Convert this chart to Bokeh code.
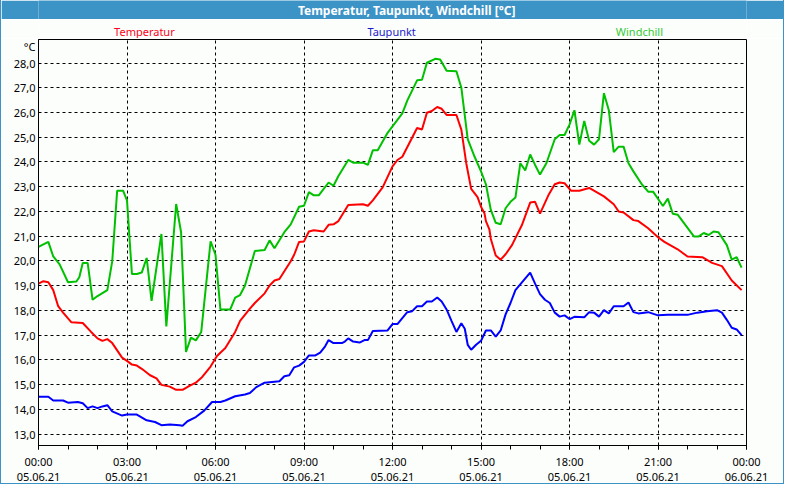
from bokeh.plotting import figure
from bokeh.models import Range1d, FixedTicker, LinearAxis
from bokeh.layouts import column
from bokeh.embed import file_html
from bokeh.resources import INLINE
from bokeh.core.properties import value

# ---------------- data ----------------
TITLE = "Temperatur, Taupunkt, Windchill [°C]"
SERIES_NAMES = ["Temperatur", "Taupunkt", "Windchill"]
UNIT_LABEL = "°C"

x_tick_hours = [0, 3, 6, 9, 12, 15, 18, 21, 24]
x_time_labels = ["00:00", "03:00", "06:00", "09:00", "12:00", "15:00", "18:00", "21:00", "00:00"]
x_date_labels = ["05.06.21"] * 8 + ["06.06.21"]
y_ticks = list(range(13, 29))
y_tick_labels = [f"{t},0" for t in y_ticks]
unit_label_pos = 28.75

# minutes since 05.06.21 00:00
temp_minutes = [0, 10, 20, 30, 40, 50, 67, 90, 107, 120, 130, 140, 150, 170, 180, 190,
                200, 210, 227, 240, 250, 267, 280, 293, 307, 320, 333, 350, 363, 380,
                400, 410, 430, 440, 460, 470, 480, 490, 500, 513, 520, 530, 540, 550,
                560, 580, 590, 600, 610, 630, 660, 670, 680, 700, 720, 730, 740, 770,
                780, 790, 800, 811, 820, 830, 850, 860, 870, 880, 893, 900, 907, 910,
                917, 920, 930, 940, 950, 963, 983, 1000, 1010, 1020, 1037, 1050, 1060,
                1070, 1083, 1100, 1120, 1150, 1170, 1180, 1190, 1210, 1220, 1240, 1260,
                1273, 1300, 1320, 1350, 1370, 1390, 1410, 1430]
temp_values = [19.08, 19.18, 19.14, 18.82, 18.17, 17.91, 17.52, 17.49, 17.13, 16.87, 16.77,
               16.84, 16.68, 16.09, 15.96, 15.81, 15.77, 15.64, 15.38, 15.25, 14.99, 14.92,
               14.79, 14.79, 14.95, 15.08, 15.31, 15.73, 16.16, 16.48, 17.13, 17.58, 18.07,
               18.30, 18.69, 19.01, 19.21, 19.27, 19.58, 19.99, 20.25, 20.77, 20.79, 21.19,
               21.24, 21.19, 21.46, 21.48, 21.61, 22.26, 22.29, 22.23, 22.45, 22.97, 23.82,
               24.08, 24.21, 25.37, 25.31, 25.99, 26.06, 26.22, 26.15, 25.90, 25.90, 25.31,
               23.95, 22.91, 22.58, 22.19, 21.93, 21.61, 21.28, 20.89, 20.22, 20.05, 20.27,
               20.64, 21.44, 22.36, 22.39, 21.91, 22.65, 23.10, 23.17, 23.14, 22.84, 22.84,
               22.95, 22.61, 22.29, 22.00, 21.96, 21.65, 21.61, 21.32, 20.96, 20.77, 20.47,
               20.18, 20.15, 19.92, 19.79, 19.21, 18.82]

dew_minutes = [0, 20, 30, 50, 60, 80, 90, 100, 110, 120, 130, 140, 150, 170, 180, 200,
               220, 237, 250, 267, 287, 293, 303, 320, 337, 353, 370, 380, 400, 420, 430,
               443, 460, 480, 490, 500, 510, 520, 530, 540, 550, 563, 573, 583, 590, 600,
               617, 623, 630, 640, 653, 663, 670, 680, 710, 720, 730, 750, 760, 770, 780,
               790, 800, 811, 820, 830, 840, 850, 860, 867, 873, 880, 890, 900, 910, 920,
               930, 940, 950, 960, 970, 1000, 1010, 1020, 1030, 1040, 1050, 1060, 1070,
               1080, 1090, 1110, 1120, 1130, 1140, 1150, 1160, 1170, 1190, 1200, 1210,
               1220, 1240, 1260, 1280, 1320, 1340, 1360, 1380, 1390, 1400, 1410, 1420, 1430]
dew_values = [14.51, 14.51, 14.36, 14.36, 14.27, 14.30, 14.25, 14.05, 14.12, 14.05, 14.12,
              14.17, 13.92, 13.75, 13.79, 13.79, 13.56, 13.49, 13.36, 13.39, 13.36, 13.34,
              13.52, 13.69, 13.95, 14.30, 14.30, 14.36, 14.53, 14.60, 14.66, 14.90, 15.08,
              15.12, 15.14, 15.34, 15.38, 15.70, 15.77, 15.92, 16.18, 16.18, 16.29, 16.55,
              16.80, 16.68, 16.68, 16.74, 16.87, 16.74, 16.70, 16.80, 16.80, 17.17, 17.19,
              17.45, 17.45, 17.93, 17.97, 18.17, 18.17, 18.36, 18.36, 18.52, 18.36, 18.04,
              17.58, 17.13, 17.48, 17.26, 16.61, 16.41, 16.61, 16.77, 17.19, 17.19, 16.94,
              17.19, 17.84, 18.30, 18.82, 19.53, 19.08, 18.66, 18.43, 18.30, 17.91, 17.75,
              17.80, 17.65, 17.74, 17.72, 17.93, 17.91, 17.75, 18.01, 17.88, 18.17, 18.17,
              18.32, 17.93, 17.88, 17.93, 17.80, 17.82, 17.82, 17.91, 17.97, 18.01, 17.91,
              17.62, 17.30, 17.23, 17.00]

wc_minutes = [0, 13, 20, 30, 43, 60, 77, 83, 90, 100, 110, 120, 140, 150, 160, 172, 180,
              190, 200, 210, 220, 230, 250, 260, 280, 290, 300, 310, 320, 331, 350, 360,
              370, 390, 400, 410, 420, 440, 460, 470, 480, 500, 513, 530, 540, 550, 560,
              570, 590, 600, 610, 630, 640, 660, 670, 680, 690, 710, 740, 750, 770, 780,
              790, 807, 817, 830, 850, 860, 873, 887, 900, 910, 920, 930, 940, 950, 960,
              970, 980, 990, 1000, 1010, 1020, 1033, 1050, 1060, 1070, 1080, 1090, 1100,
              1110, 1120, 1130, 1140, 1150, 1160, 1170, 1180, 1190, 1200, 1210, 1227, 1240,
              1250, 1270, 1280, 1290, 1300, 1333, 1343, 1353, 1363, 1373, 1383, 1400, 1410,
              1420, 1430]
wc_values = [20.57, 20.70, 20.77, 20.18, 19.86, 19.14, 19.17, 19.34, 19.92, 19.92, 18.43,
             18.58, 18.82, 19.99, 22.84, 22.84, 22.45, 19.47, 19.47, 19.53, 20.12, 18.39,
             21.09, 17.35, 22.30, 21.16, 16.32, 16.90, 16.79, 17.13, 20.79, 20.25, 18.04,
             18.04, 18.52, 18.62, 19.01, 20.40, 20.44, 20.83, 20.51, 21.16, 21.48, 22.19,
             22.23, 22.78, 22.65, 22.65, 23.17, 23.04, 23.43, 24.08, 23.97, 23.97, 23.88,
             24.47, 24.47, 25.18, 25.96, 26.48, 27.30, 27.32, 28.01, 28.17, 28.14, 27.69,
             27.67, 27.00, 24.92, 24.21, 23.62, 23.10, 22.06, 21.54, 21.48, 22.13, 22.39,
             22.56, 23.95, 23.66, 24.30, 23.88, 23.49, 23.95, 24.92, 25.09, 25.09, 25.51,
             26.09, 24.70, 25.66, 24.86, 24.70, 24.92, 26.78, 26.09, 24.40, 24.62, 24.62,
             23.95, 23.62, 23.10, 22.80, 22.80, 22.22, 22.52, 21.91, 21.87, 20.99, 20.99,
             21.13, 21.05, 21.19, 21.16, 20.64, 20.05, 20.15, 19.73]

legend_hours = [3.59, 11.97, 20.37]

# ---------------- style ----------------
FONT = "Noto Sans"
BAR_BLUE = "#3c93c6"
BG = "#fcfefc"
RED, BLUE, GREEN = "#ff0000", "#0000ff", "#00c000"
LEGEND_COLORS = ["#ff0022", "#1a1acc", "#33cc33"]
W = 782
LEFT, RIGHT = 37, 37

to_h = lambda mins: [m / 60.0 for m in mins]

# ---- title bar ----
tf = figure(width=W, height=19, x_range=Range1d(0, 1), y_range=Range1d(0, 1),
            x_axis_location=None, y_axis_location=None, toolbar_location=None,
            output_backend="svg", min_border=0, background_fill_color=BAR_BLUE,
            border_fill_color=BAR_BLUE, outline_line_color=None)
tf.grid.visible = False
tf.text(x=[0.52], y=[0.5], text=[TITLE], text_align="center", text_baseline="middle",
        text_color="white", text_font=value(FONT), text_font_style="bold",
        text_font_size="12px")

# ---- legend strip ----
lf = figure(width=W, height=19, x_range=Range1d(0, 24), y_range=Range1d(0, 1),
            x_axis_location=None, y_axis_location=None, toolbar_location=None,
            output_backend="svg", min_border_left=LEFT, min_border_right=RIGHT,
            min_border_top=0, min_border_bottom=0,
            background_fill_color=BG, border_fill_color=BG, outline_line_color=None)
lf.grid.visible = False
lf.text(x=legend_hours, y=[0.35] * 3, text=SERIES_NAMES, text_color=LEGEND_COLORS,
        text_align="center", text_baseline="middle", text_font=value(FONT),
        text_font_size="11px")

# ---- main chart ----
p = figure(width=W, height=445, x_range=Range1d(0, 24), y_range=Range1d(12.54, 28.95),
           toolbar_location=None, output_backend="svg",
           min_border_left=LEFT, min_border_right=RIGHT, min_border_top=1,
           min_border_bottom=38,
           background_fill_color=BG, border_fill_color=BG,
           outline_line_color="black", outline_line_width=1)

for g in (p.xgrid, p.ygrid):
    g.grid_line_color = "black"
    g.grid_line_dash = "3 3"
    g.grid_line_width = 1
p.xgrid.ticker = FixedTicker(ticks=x_tick_hours)
p.ygrid.ticker = FixedTicker(ticks=y_ticks)

xa = p.xaxis[0]
xa.ticker = FixedTicker(ticks=x_tick_hours, minor_ticks=list(range(25)))
xa.major_label_overrides = dict(zip(x_tick_hours, x_time_labels))
xa.major_tick_in = 0
xa.major_tick_out = 4
xa.minor_tick_in = 0
xa.minor_tick_out = 4
xa.major_tick_line_color = "black"
xa.minor_tick_line_color = "black"
xa.axis_line_color = "black"
xa.major_label_text_font = FONT
xa.major_label_text_font_size = "11px"
xa.major_label_text_color = "#000000"
xa.major_label_standoff = 4

xa2 = LinearAxis(ticker=FixedTicker(ticks=x_tick_hours, minor_ticks=[]),
                 major_label_overrides=dict(zip(x_tick_hours, x_date_labels)),
                 axis_line_color=None, major_tick_line_color=None,
                 minor_tick_line_color=None, major_tick_in=0, major_tick_out=0,
                 minor_tick_in=0, minor_tick_out=0, major_label_standoff=1,
                 major_label_text_font=FONT, major_label_text_font_size="11px",
                 major_label_text_color="#000000")
p.add_layout(xa2, "below")

ya = p.yaxis[0]
ya.ticker = FixedTicker(ticks=y_ticks + [unit_label_pos], minor_ticks=[])
ya.major_label_overrides = {**dict(zip(y_ticks, y_tick_labels)), unit_label_pos: UNIT_LABEL}
ya.major_tick_line_color = None
ya.minor_tick_line_color = None
ya.major_tick_in = 0
ya.major_tick_out = 0
ya.axis_line_color = "black"
ya.major_label_text_font = FONT
ya.major_label_text_font_size = "11px"
ya.major_label_text_color = "#000000"
ya.major_label_standoff = 3

p.line(to_h(temp_minutes), temp_values, line_color=RED, line_width=2)
p.line(to_h(dew_minutes), dew_values, line_color=BLUE, line_width=2)
p.line(to_h(wc_minutes), wc_values, line_color=GREEN, line_width=2)

layout = column(tf, lf, p, spacing=0,
                styles={"border-left": f"1px solid {BAR_BLUE}",
                        "border-right": f"1px solid {BAR_BLUE}",
                        "border-bottom": f"1px solid {BAR_BLUE}"})
open("out.html", "w").write(file_html(layout, INLINE))
